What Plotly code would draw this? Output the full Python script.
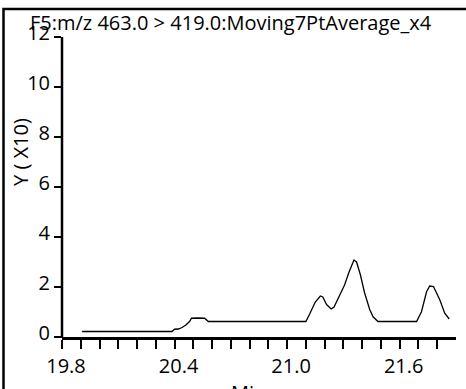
import plotly.graph_objects as go

# Retention time (min) and intensity (x10)
time_min = [19.907, 20.00, 20.10, 20.20, 20.30, 20.386, 20.40, 20.42, 20.44, 20.46, 20.48,
            20.49, 20.52, 20.56, 20.58, 20.70, 20.80, 20.90, 21.00, 21.10, 21.12, 21.15,
            21.177, 21.19, 21.21, 21.235, 21.25, 21.28, 21.306, 21.33, 21.356, 21.37,
            21.39, 21.413, 21.44, 21.458, 21.484, 21.55, 21.62, 21.69, 21.716, 21.743,
            21.76, 21.78, 21.814, 21.84, 21.864]
intensity = [0.22, 0.22, 0.22, 0.22, 0.22, 0.22, 0.31, 0.32, 0.38, 0.48, 0.62,
             0.75, 0.76, 0.75, 0.62, 0.62, 0.62, 0.62, 0.62, 0.62, 0.92, 1.40,
             1.64, 1.60, 1.30, 1.12, 1.20, 1.65, 2.08, 2.60, 3.08, 3.00,
             2.50, 1.76, 1.10, 0.81, 0.62, 0.62, 0.62, 0.62, 1.01, 1.81,
             2.04, 2.02, 1.48, 0.95, 0.72]

tick_vals = [19.8, 19.9, 20.0, 20.1, 20.2, 20.3, 20.4, 20.5, 20.6, 20.7, 20.8, 20.9,
             21.0, 21.1, 21.2, 21.3, 21.4, 21.5, 21.6, 21.7, 21.8]
tick_text = ["19.8", "", "", "", "", "", "20.4", "", "", "", "", "",
             "21.0", "", "", "", "", "", "21.6", "", ""]
y_ticks = [0, 2, 4, 6, 8, 10, 12]

title_text = "F5:m/z 463.0 > 419.0:Moving7PtAverage_x4"
y_title = "Y ( X10)"
x_title = "Min"

W, H = 466, 389
FONT = "Open Sans"
FS = 20

fig = go.Figure()
fig.add_trace(go.Scatter(x=time_min, y=intensity, mode="lines", xaxis="x", yaxis="y",
                         line=dict(color="black", width=1.3), hoverinfo="skip"))

# page frame and y-axis line drawn on a full-page pixel overlay
fig.add_trace(go.Scatter(x=[3.5, 3.5, W], y=[H, 9, 9], mode="lines", xaxis="x2", yaxis="y2",
                         line=dict(color="black", width=2.5), hoverinfo="skip"))
fig.add_trace(go.Scatter(x=[62, 62], y=[37, 338], mode="lines", xaxis="x2", yaxis="y2",
                         line=dict(color="black", width=2.5), hoverinfo="skip"))

fig.update_layout(
    width=W, height=H,
    margin=dict(l=0, r=0, t=0, b=0, autoexpand=False),
    paper_bgcolor="white", plot_bgcolor="rgba(0,0,0,0)",
    showlegend=False,
    font=dict(family=FONT, size=FS, color="black"),
    xaxis=dict(domain=[62 / W, 456 / W], anchor="y",
               range=[19.8, 21.9], tickmode="array", tickvals=tick_vals, ticktext=tick_text,
               ticks="outside", ticklen=9, tickwidth=2, tickcolor="black",
               showline=True, linecolor="black", linewidth=2.5, showgrid=False, zeroline=False,
               automargin=False, ticklabelshift=4, tickfont=dict(family=FONT, size=FS)),
    yaxis=dict(domain=[(H - 337) / H, (H - 37) / H], anchor="x",
               range=[0, 12], tickmode="array", tickvals=y_ticks,
               ticks="outside", ticklen=7, tickwidth=2, tickcolor="black",
               showline=False, showgrid=False, zeroline=False,
               automargin=False, ticklabelshift=-4, tickfont=dict(family=FONT, size=FS)),
    xaxis2=dict(domain=[0, 1], anchor="y2", range=[0, W], visible=False, fixedrange=True),
    yaxis2=dict(domain=[0, 1], anchor="x2", range=[H, 0], visible=False, fixedrange=True),
    annotations=[
        dict(text=title_text, xref="x2", yref="y2", x=28, y=22,
             xanchor="left", yanchor="middle", showarrow=False,
             font=dict(family=FONT, size=FS)),
        dict(text=y_title, xref="x2", yref="y2", x=20, y=152,
             xanchor="center", yanchor="middle", textangle=-90, showarrow=False,
             font=dict(family=FONT, size=FS)),
        dict(text=x_title, xref="x2", yref="y2", x=248, y=377,
             xanchor="center", yanchor="top", showarrow=False,
             font=dict(family=FONT, size=FS)),
    ],
)

fig.write_html("out.html",
               post_script="document.body.style.margin='0';document.body.style.overflow='hidden';",
               config={"displayModeBar": False})
